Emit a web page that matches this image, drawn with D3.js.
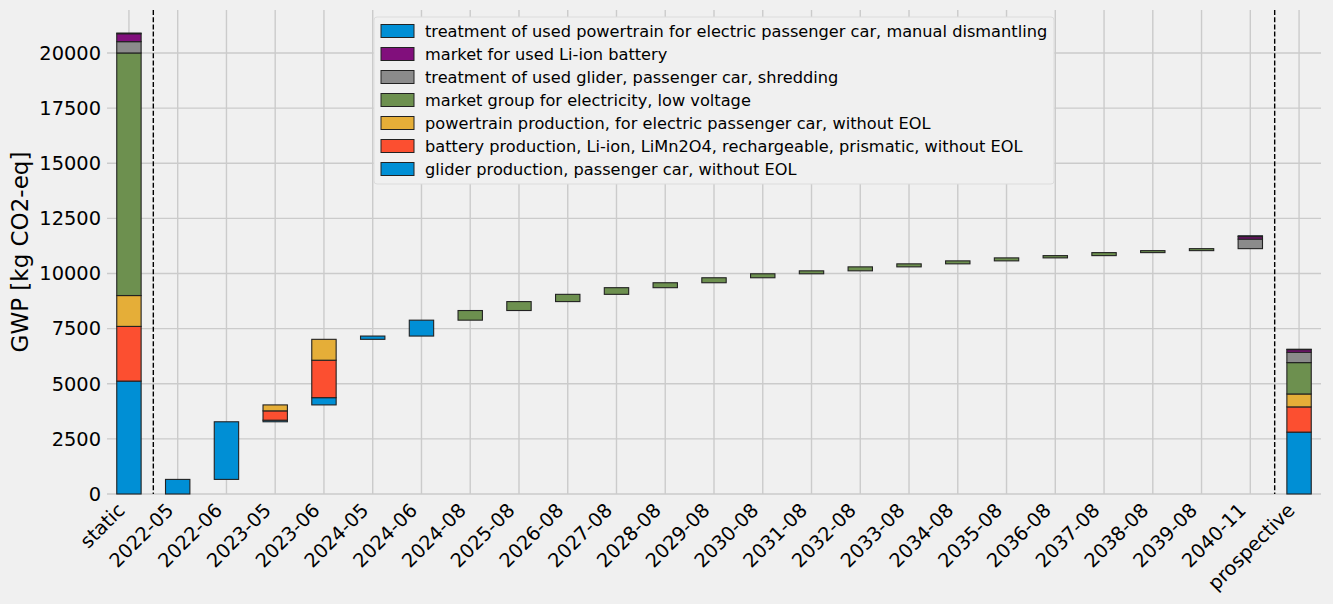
<!DOCTYPE html>
<html>
<head>
<meta charset="utf-8">
<script src="https://cdn.jsdelivr.net/npm/d3@7"></script>
<style>
  body { margin: 0; background: #f0f0f0; }
  text { font-family: "DejaVu Sans", sans-serif; fill: #000; }
</style>
</head>
<body>
<div id="my_dataviz"></div>
<script>
// categories along the x axis
const categories = ["static", "2022-05", "2022-06", "2023-05", "2023-06", "2024-05", "2024-06",
  "2024-08", "2025-08", "2026-08", "2027-08", "2028-08", "2029-08", "2030-08", "2031-08",
  "2032-08", "2033-08", "2034-08", "2035-08", "2036-08", "2037-08", "2038-08", "2039-08",
  "2040-11", "prospective"];

// series names, bottom of the stack first
const seriesNames = [
  "glider production, passenger car, without EOL",
  "battery production, Li-ion, LiMn2O4, rechargeable, prismatic, without EOL",
  "powertrain production, for electric passenger car, without EOL",
  "market group for electricity, low voltage",
  "treatment of used glider, passenger car, shredding",
  "market for used Li-ion battery",
  "treatment of used powertrain for electric passenger car, manual dismantling"
];
const seriesColors = ["#008fd5", "#fc4f30", "#e5ae38", "#6d904f", "#8b8b8b", "#810f7c", "#008fd5"];

// values per category (kg CO2-eq)
const glider      = [5120, 662, 2613, 72, 329, 148, 721, 0, 0, 0, 0, 0, 0, 0, 0, 0, 0, 0, 0, 0, 0, 0, 0, 0, 2806];
const battery     = [2480, 0, 0, 423, 1698, 0, 0, 0, 0, 0, 0, 0, 0, 0, 0, 0, 0, 0, 0, 0, 0, 0, 0, 0, 1144];
const powertrain  = [1400, 0, 0, 270, 947, 0, 0, 0, 0, 0, 0, 0, 0, 0, 0, 0, 0, 0, 0, 0, 0, 0, 0, 0, 586];
const electricity = [11000, 0, 0, 0, 0, 0, 0, 437, 405, 329, 302, 224, 226, 180, 134, 180, 137, 135, 135, 103, 136, 90, 90, 0, 1423];
const gliderEol   = [513, 0, 0, 0, 0, 0, 0, 0, 0, 0, 0, 0, 0, 0, 0, 0, 0, 0, 0, 0, 0, 0, 0, 434, 469];
const batteryEol  = [360, 0, 0, 0, 0, 0, 0, 0, 0, 0, 0, 0, 0, 0, 0, 0, 0, 0, 0, 0, 0, 0, 0, 110, 117];
const powertrainEol = [30, 0, 0, 0, 0, 0, 0, 0, 0, 0, 0, 0, 0, 0, 0, 0, 0, 0, 0, 0, 0, 0, 0, 40, 20];

const seriesValues = [glider, battery, powertrain, electricity, gliderEol, batteryEol, powertrainEol];

const yTicks = [0, 2500, 5000, 7500, 10000, 12500, 15000, 17500, 20000];

// set the dimensions of the plot area
const width = 1333, height = 604;
const plot = {left: 107, right: 1321, top: 10, bottom: 494};

let svg = d3.select("#my_dataviz")
  .append("svg")
  .attr("width", width)
  .attr("height", height)
  .style("background", "#f0f0f0");

// band scale: bars are half a step wide
let x = d3.scaleBand()
  .domain(categories)
  .range([plot.left, plot.right])
  .paddingInner(0.5)
  .paddingOuter(0.2);

// build the stacked rects; timeline bars start where the previous one ended
let rects = [];
let running = 0;
let totals = [];
categories.forEach(function(c, i) {
  let isTimeline = (c !== "static" && c !== "prospective");
  let base = isTimeline ? running : 0;
  let y0 = base;
  seriesValues.forEach(function(vals, s) {
    if (vals[i] > 0) {
      rects.push({cat: c, s: s, y0: y0, y1: y0 + vals[i]});
    }
    y0 += vals[i];
  });
  totals.push(y0);
  if (isTimeline) running = y0;
});

let yMax = d3.max(totals) * 1.05;
let y = d3.scaleLinear()
  .domain([0, yMax])
  .range([plot.bottom, plot.top]);

// grid lines
let grid = svg.append("g");
grid.selectAll(".hgrid")
  .data(yTicks)
  .enter().append("line")
  .attr("x1", plot.left).attr("x2", plot.right)
  .attr("y1", d => y(d)).attr("y2", d => y(d))
  .attr("stroke", "#cbcbcb").attr("stroke-width", 1.4);
grid.selectAll(".vgrid")
  .data(categories)
  .enter().append("line")
  .attr("x1", d => x(d) + x.bandwidth() / 2).attr("x2", d => x(d) + x.bandwidth() / 2)
  .attr("y1", plot.top).attr("y2", plot.bottom)
  .attr("stroke", "#cbcbcb").attr("stroke-width", 1.4);

// bars
svg.append("g")
  .selectAll("rect")
  .data(rects)
  .enter().append("rect")
  .attr("x", d => x(d.cat))
  .attr("width", x.bandwidth())
  .attr("y", d => y(d.y1))
  .attr("height", d => y(d.y0) - y(d.y1))
  .attr("fill", d => seriesColors[d.s])
  .attr("stroke", "#222")
  .attr("stroke-width", 1.1);

// dashed separators between static / timeline / prospective
let step = x.step();
let sepX = [x(categories[0]) + x.bandwidth() / 2 + step / 2,
            x(categories[categories.length - 1]) + x.bandwidth() / 2 - step / 2];
svg.selectAll(".sep")
  .data(sepX)
  .enter().append("line")
  .attr("x1", d => d).attr("x2", d => d)
  .attr("y1", plot.top).attr("y2", plot.bottom)
  .attr("stroke", "#000").attr("stroke-width", 1.4)
  .attr("stroke-dasharray", "5,2.2");

// y axis tick labels
svg.append("g")
  .selectAll("text")
  .data(yTicks)
  .enter().append("text")
  .attr("x", plot.left - 6)
  .attr("y", d => y(d))
  .attr("dy", "0.35em")
  .attr("text-anchor", "end")
  .style("font-size", "19.4px")
  .text(d => d);

// x axis tick labels, rotated 45 degrees and right aligned
svg.append("g")
  .selectAll("text")
  .data(categories)
  .enter().append("text")
  .attr("transform", d => "translate(" + (x(d) + x.bandwidth() / 2 - 3) + "," + (plot.bottom + 17.5) + ") rotate(-45)")
  .attr("text-anchor", "end")
  .style("font-size", "19.4px")
  .text(d => d);

// y axis label
svg.append("text")
  .attr("transform", "translate(28," + ((plot.top + plot.bottom) / 2) + ") rotate(-90)")
  .attr("text-anchor", "middle")
  .style("font-size", "23px")
  .text("GWP [kg CO2-eq]");

// legend, top series first
let legend = svg.append("g").attr("transform", "translate(374,17)");
legend.append("rect")
  .attr("width", 680).attr("height", 167)
  .attr("rx", 3)
  .attr("fill", "#f0f0f0")
  .attr("stroke", "#dcdcdc");
let order = d3.range(seriesNames.length).reverse();
let items = legend.selectAll(".item")
  .data(order)
  .enter().append("g")
  .attr("transform", (d, i) => "translate(7," + (14 + i * 23) + ")");
items.append("rect")
  .attr("x", 0).attr("y", -6.5)
  .attr("width", 33).attr("height", 13)
  .attr("fill", d => seriesColors[d])
  .attr("stroke", "#222").attr("stroke-width", 1);
items.append("text")
  .attr("x", 44)
  .attr("dy", "0.35em")
  .style("font-size", "16.2px")
  .text(d => seriesNames[d]);
</script>
</body>
</html>
